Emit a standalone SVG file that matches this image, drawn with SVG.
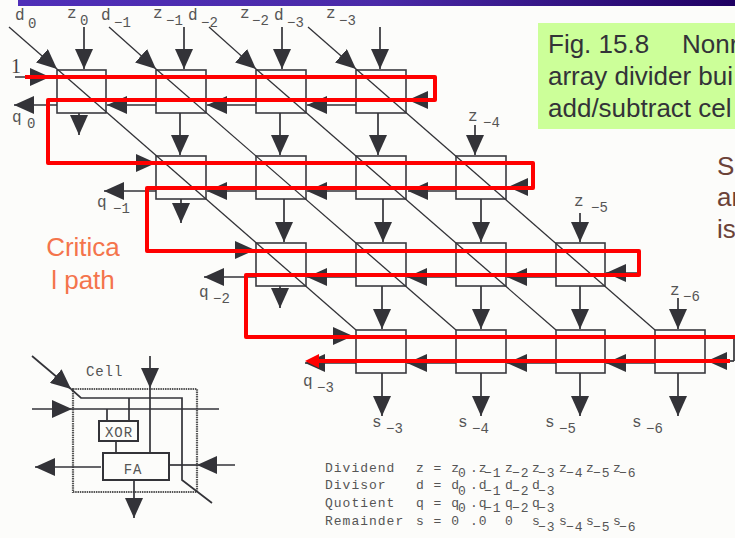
<svg xmlns="http://www.w3.org/2000/svg" width="735" height="538" viewBox="0 0 735 538">
<style>
.box{fill:none;stroke:#3a3a40;stroke-width:1.6}
.c{fill:none;stroke:#333338;stroke-width:1.7}
.a{fill:none;stroke:#333338;stroke-width:1.7;marker-end:url(#h)}
.d{fill:none;stroke:#333338;stroke-width:1.3}
.r{fill:none;stroke:#ff0000;stroke-width:4;stroke-linejoin:round}
.m{font-family:"Liberation Mono","DejaVu Sans Mono",monospace;font-size:14px;fill:#555}
.w{letter-spacing:.9px}
#array-labels text:nth-child(odd){font-size:16px}
.s{font-family:"Liberation Mono","DejaVu Sans Mono",monospace;font-size:13px;fill:#555;letter-spacing:1px}
.n{font-family:"Liberation Sans",Arial,sans-serif;font-size:26px}
</style>
<defs>
<linearGradient id="bar" x1="0" y1="0" x2="1" y2="0"><stop offset="0" stop-color="#4f2fb8"/><stop offset="0.5" stop-color="#4a2aa8"/><stop offset="1" stop-color="#1f0062"/></linearGradient>
<marker id="h" markerUnits="userSpaceOnUse" markerWidth="21" markerHeight="18" refX="20" refY="9" orient="auto"><path d="M0,0 L20,9 L0,18 Z" fill="#333338"/></marker>
</defs>
<rect width="735" height="538" fill="#fcfcfa"/>
<rect x="18" y="0" width="717" height="6" fill="url(#bar)"/>
<g id="caption">
<rect x="538" y="23" width="197" height="106" fill="#ccff99"/>
<text class="n" fill="#333338" x="548" y="53">Fig. 15.8<tspan x="682">Nonr</tspan></text>
<text class="n" fill="#333338" x="548" y="85">array divider bui</text>
<text class="n" fill="#333338" x="548" y="117">add/subtract cel</text>
</g>
<g id="note" class="n" fill="#6b4238">
<text x="717" y="175">S</text><text x="717" y="206">ar</text><text x="717" y="238">is</text>
</g>
<g id="critical-label" class="n" fill="#f4744c" text-anchor="middle">
<text x="83" y="256">Critica</text><text x="83" y="289">l path</text>
</g>
<g id="cell-0-0"><rect class="box" x="57" y="70" width="49" height="43"/></g>
<g id="cell-0-1"><rect class="box" x="156" y="70" width="50" height="43"/></g>
<g id="cell-0-2"><rect class="box" x="256" y="70" width="50" height="43"/></g>
<g id="cell-0-3"><rect class="box" x="356" y="70" width="50" height="43"/></g>
<g id="cell-1-0"><rect class="box" x="156" y="156" width="50" height="43"/></g>
<g id="cell-1-1"><rect class="box" x="256" y="156" width="50" height="43"/></g>
<g id="cell-1-2"><rect class="box" x="356" y="156" width="50" height="43"/></g>
<g id="cell-1-3"><rect class="box" x="456" y="156" width="50" height="43"/></g>
<g id="cell-2-0"><rect class="box" x="256" y="243" width="50" height="43"/></g>
<g id="cell-2-1"><rect class="box" x="356" y="243" width="50" height="43"/></g>
<g id="cell-2-2"><rect class="box" x="456" y="243" width="50" height="43"/></g>
<g id="cell-2-3"><rect class="box" x="556" y="243" width="49" height="43"/></g>
<g id="cell-3-0"><rect class="box" x="356" y="330" width="50" height="43"/></g>
<g id="cell-3-1"><rect class="box" x="456" y="330" width="50" height="43"/></g>
<g id="cell-3-2"><rect class="box" x="556" y="330" width="49" height="43"/></g>
<g id="cell-3-3"><rect class="box" x="655" y="330" width="50" height="43"/></g>
<g id="connectors">
<path class="d" d="M9,27 L57,69" marker-end="url(#h)"/><path class="d" d="M57,69 L356,330"/>
<path class="d" d="M109,27 L156,69" marker-end="url(#h)"/><path class="d" d="M156,69 L456,330"/>
<path class="d" d="M209,27 L256,69" marker-end="url(#h)"/><path class="d" d="M256,69 L556,330"/>
<path class="d" d="M308,27 L356,69" marker-end="url(#h)"/><path class="d" d="M356,69 L655,330"/>
<path class="a" d="M84,27V69"/><path class="a" d="M184,27V69"/><path class="a" d="M282,27V69"/><path class="a" d="M380,27V69"/>
<path class="a" d="M79,113V135"/><path class="a" d="M180,113V155"/><path class="a" d="M280,113V155"/><path class="a" d="M378,113V155"/><path class="a" d="M475,125V155"/>
<path class="a" d="M181,199V223"/><path class="a" d="M284,199V242"/><path class="a" d="M383,199V242"/><path class="a" d="M481,199V242"/><path class="a" d="M580,213V242"/>
<path class="a" d="M280,286V308"/><path class="a" d="M382,286V329"/><path class="a" d="M481,286V329"/><path class="a" d="M580,286V329"/><path class="a" d="M678,298V329"/>
<path class="a" d="M382,373V416"/><path class="a" d="M481,373V416"/><path class="a" d="M580,373V416"/><path class="a" d="M678,373V416"/>
<path class="a" d="M15,77H50"/><path class="a" d="M57,105H14"/><path class="a" d="M156,105H107"/><path class="a" d="M256,105H207"/><path class="a" d="M356,105H307"/><path class="a" d="M435,100H408"/>
<path class="a" d="M132,163H156"/><path class="a" d="M156,191H104"/><path class="a" d="M256,191H207"/><path class="a" d="M356,191H307"/><path class="a" d="M456,191H408"/><path class="a" d="M533,187H508"/>
<path class="a" d="M234,250H255"/><path class="a" d="M256,277H204"/><path class="a" d="M356,277H307"/><path class="a" d="M456,277H407"/><path class="a" d="M556,277H507"/><path class="a" d="M639,273H606"/>
<path class="a" d="M332,336H353"/><path class="a" d="M356,363H305"/><path class="a" d="M456,363H407"/><path class="a" d="M556,363H507"/><path class="a" d="M655,363H606"/><path class="a" d="M734,361H707"/>
<path class="c" d="M734,337V361"/>
</g>
<g id="critical-path">
<path class="r" d="M25,77H435V100H48V163H533V188H147V251H639V275H246V337H735"/>
<path class="r" d="M730,361H312"/><path d="M305,361L319,354V368Z" fill="#ff0000"/>
</g>
<text x="11" y="73" font-family="Liberation Serif, serif" font-size="20" fill="#444">1</text>
<g id="array-labels" class="m">
<text x="15" y="20">d</text><text x="28" y="28">0</text>
<text x="67" y="18">z</text><text x="80" y="25">0</text>
<text x="101" y="20">d</text><text x="114" y="27">−1</text>
<text x="153" y="18">z</text><text x="166" y="25">−1</text>
<text x="188" y="20">d</text><text x="201" y="27">−2</text>
<text x="240" y="18">z</text><text x="252" y="25">−2</text>
<text x="274" y="20">d</text><text x="287" y="27">−3</text>
<text x="326" y="18">z</text><text x="339" y="25">−3</text>
<text x="12" y="122">q</text><text x="27" y="128">0</text>
<text x="468" y="121">z</text><text x="483" y="127">−4</text>
<text x="97" y="207">q</text><text x="113" y="213">−1</text>
<text x="574" y="206">z</text><text x="591" y="212">−5</text>
<text x="199" y="297">q</text><text x="213" y="303">−2</text>
<text x="670" y="295">z</text><text x="683" y="301">−6</text>
<text x="303" y="386">q</text><text x="317" y="392">−3</text>
<text x="372" y="427">s</text><text x="386" y="433">−3</text>
<text x="458" y="427">s</text><text x="472" y="433">−4</text>
<text x="545" y="427">s</text><text x="559" y="433">−5</text>
<text x="632" y="427">s</text><text x="646" y="433">−6</text>
</g>
<g id="cell-detail">
<rect x="73" y="389" width="124" height="103" fill="none" stroke="#555" stroke-width="2.2" stroke-dasharray="1.5 .8"/>
<path class="c" d="M71,389L81,398H182V480L212,503"/>
<path class="c" d="M32,356L71,389" marker-end="url(#h)"/>
<path class="a" d="M150,356V388"/><path class="c" d="M150,388V453"/>
<path class="a" d="M32,409H72"/><path class="c" d="M72,409H219"/>
<path class="c" d="M107,409V421M129,398V421M116,441V453"/>
<g id="xor"><rect x="99" y="421" width="39" height="20" fill="none" stroke="#333338" stroke-width="2"/><text class="m w" x="119" y="437" text-anchor="middle">XOR</text></g>
<g id="fa"><rect x="103" y="453" width="66" height="27" fill="none" stroke="#333338" stroke-width="2"/><text class="m w" x="133" y="474" text-anchor="middle">FA</text></g>
<path class="a" d="M101,467H35"/><path class="c" d="M169,465H197"/><path class="a" d="M235,465H197"/>
<path class="a" d="M134,480V518"/>
<text class="m w" x="86" y="376">Cell</text>
</g>
<g id="legend" class="s">
<text x="325" y="472">Dividend<tspan x="416">z = z</tspan><tspan x="458" y="477">0</tspan><tspan x="470" y="472">.z</tspan><tspan x="484" y="477">−1</tspan><tspan x="505" y="472">z</tspan><tspan x="512" y="477">−2</tspan><tspan x="532" y="472">z</tspan><tspan x="538" y="477">−3</tspan><tspan x="559" y="472">z</tspan><tspan x="566" y="477">−4</tspan><tspan x="586" y="472">z</tspan><tspan x="593" y="477">−5</tspan><tspan x="613" y="472">z</tspan><tspan x="619" y="477">−6</tspan></text>
<text x="325" y="489">Divisor<tspan x="416">d = d</tspan><tspan x="458" y="495">0</tspan><tspan x="470" y="489">.d</tspan><tspan x="484" y="495">−1</tspan><tspan x="505" y="489">d</tspan><tspan x="512" y="495">−2</tspan><tspan x="532" y="489">d</tspan><tspan x="538" y="495">−3</tspan></text>
<text x="325" y="507">Quotient<tspan x="416">q = q</tspan><tspan x="458" y="512">0</tspan><tspan x="470" y="507">.q</tspan><tspan x="484" y="512">−1</tspan><tspan x="505" y="507">q</tspan><tspan x="512" y="512">−2</tspan><tspan x="532" y="507">q</tspan><tspan x="538" y="512">−3</tspan></text>
<text x="325" y="525">Remainder<tspan x="416">s = 0</tspan><tspan x="470">.0</tspan><tspan x="505">0</tspan><tspan x="532">s</tspan><tspan x="538" y="531">−3</tspan><tspan x="559" y="525">s</tspan><tspan x="566" y="531">−4</tspan><tspan x="586" y="525">s</tspan><tspan x="593" y="531">−5</tspan><tspan x="613" y="525">s</tspan><tspan x="619" y="531">−6</tspan></text>
</g>
</svg>
